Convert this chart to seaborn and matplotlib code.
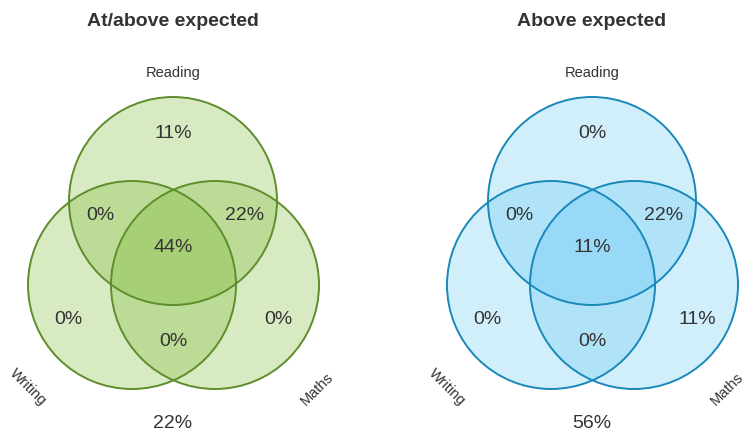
import matplotlib
matplotlib.use("Agg")
import matplotlib.pyplot as plt
from matplotlib.patches import Circle
import seaborn as sns

# ---- data ----
set_names = ["Reading", "Writing", "Maths"]
panel_titles = ["At/above expected", "Above expected"]
# region order: Reading only, Reading&Writing, Reading&Maths, all three,
#               Writing only, Maths only, Writing&Maths, none
at_above_expected = [11, 0, 22, 44, 0, 0, 0, 22]
above_expected = [0, 0, 22, 11, 0, 11, 0, 56]
panel_values = [at_above_expected, above_expected]

fill_colors = ["#72b521", "#57c2f1"]
edge_colors = ["#5e8d2c", "#1a88ba"]
fill_alpha = 0.27

sns.set_theme(style="white")
plt.rcParams["font.family"] = ["Liberation Sans", "DejaVu Sans"]

fig = plt.figure(figsize=(7.46, 4.34), dpi=100)
ax = fig.add_axes([0, 0, 1, 1])
ax.set_xlim(0, 746)
ax.set_ylim(434, 0)
ax.set_aspect("equal")
ax.axis("off")

# layout (pixel units relative to each panel's centre x)
panel_cx = [173, 592]
radius = 104
circle_offsets = [(0, 201), (-41, 285), (42, 285)]  # Reading, Writing, Maths
region_offsets = [(0, 134), (-73, 215), (72, 215), (0, 247),
                  (-105, 320), (105, 320), (0, 342), (0, 424)]
text_color = "#333333"

for cx, title, vals, fc, ec in zip(panel_cx, panel_titles, panel_values,
                                   fill_colors, edge_colors):
    for dx, cy in circle_offsets:
        ax.add_patch(Circle((cx + dx, cy), radius, facecolor=fc,
                            alpha=fill_alpha, edgecolor="none", zorder=1))
    for dx, cy in circle_offsets:
        ax.add_patch(Circle((cx + dx, cy), radius, facecolor="none",
                            edgecolor=ec, linewidth=1.4, zorder=2))
    ax.text(cx, 21, title, ha="center", va="center", fontsize=14,
            fontweight="bold", color=text_color)
    ax.text(cx, 73, set_names[0], ha="center", va="center", fontsize=10.5,
            color=text_color)
    ax.text(cx - 145, 387, set_names[1], ha="center", va="center",
            fontsize=10.5, rotation=-45, color=text_color,
            rotation_mode="anchor")
    ax.text(min(cx + 144, 727), 389, set_names[2], ha="center", va="center",
            fontsize=10.5, rotation=45, color=text_color,
            rotation_mode="anchor")
    for (ox, oy), v in zip(region_offsets, vals):
        ax.text(cx + ox, oy, f"{v}%", ha="center", va="center",
                fontsize=14, color=text_color, zorder=3)

fig.savefig("out.png", dpi=100)
